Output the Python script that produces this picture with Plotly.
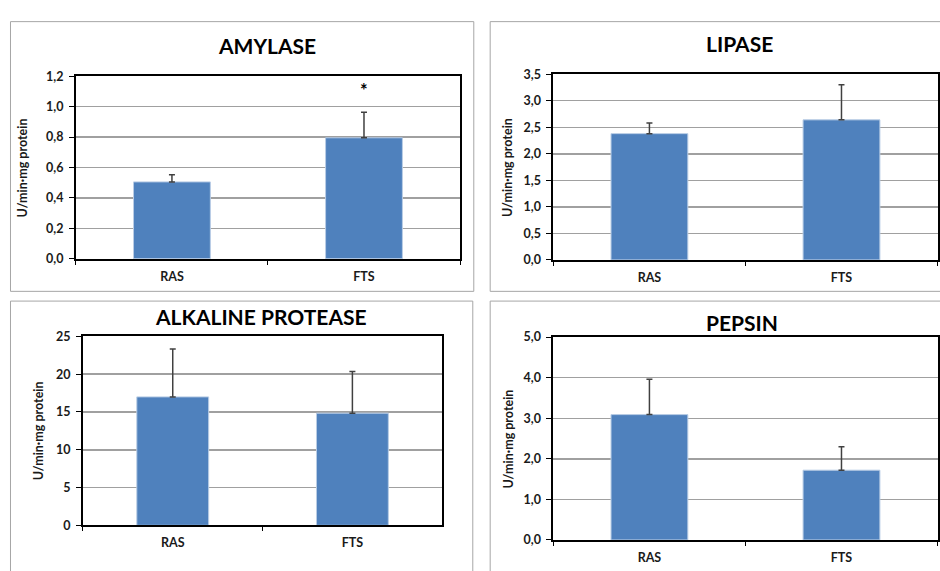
import plotly.graph_objects as go

categories = ["RAS", "FTS"]

amylase_mean = [0.505, 0.795]
amylase_err = [0.047, 0.168]
lipase_mean = [2.38, 2.64]
lipase_err = [0.20, 0.66]
protease_mean = [17.0, 14.85]
protease_err = [6.35, 5.5]
pepsin_mean = [3.09, 1.72]
pepsin_err = [0.87, 0.58]

titles = ["AMYLASE", "LIPASE", "ALKALINE PROTEASE", "PEPSIN"]
y_label = "U/min·mg protein"
y_ranges = [[0, 1.2], [0, 3.5], [0, 25], [0, 5]]
y_dticks = [0.2, 0.5, 5, 1.0]
y_formats = [".1f", ".1f", "d", ".1f"]
significance = ["", "*"]  # amylase markers

W, H = 940, 571
FONT = "Lato"
BAR = "#4F81BD"
BAR_EDGE = "#B9CDE5"
GRID = "#A0A0A0"
PANEL = "#A6A6A6"

# plot areas in pixels: x0, x1, y0(top), y1(bottom)
plots = [
    (76, 460.5, 70, 257.5),
    (554, 938.5, 68, 258.7),
    (83, 442.7, 337.3, 531.3),
    (554, 938.5, 338, 546.3),
]
panels = [
    (10.5, 474.3, 14, 291),
    (490.7, 945, 14, 291),
    (10.5, 473.3, 301, 580),
    (490.7, 945, 301, 580),
]
title_pos = [(267, 39), (740, 36), (261, 317), (743, 323)]
ylab_x = [22, 507.5, 38.5, 509.5]

series = [
    (amylase_mean, amylase_err),
    (lipase_mean, lipase_err),
    (protease_mean, protease_err),
    (pepsin_mean, pepsin_err),
]

tickfont = dict(family=FONT, size=12.5, color="#1a1a1a", weight="bold")

fig = go.Figure()
layout = dict(
    width=W, height=H,
    margin=dict(l=0, r=0, t=0, b=0),
    paper_bgcolor="white", plot_bgcolor="white",
    showlegend=False, bargap=0.6,
    separators=",.",
    font=dict(family=FONT, color="#000000"),
    annotations=[], shapes=[],
)

for i, ((means, errs), (x0, x1, y0, y1)) in enumerate(zip(series, plots)):
    n = "" if i == 0 else str(i + 1)
    fig.add_trace(go.Bar(
        x=categories, y=means,
        marker=dict(color=BAR, line=dict(color=BAR_EDGE, width=1)),
        error_y=dict(type="data", array=errs, arrayminus=[0] * len(errs),
                     symmetric=False, color="#404040", thickness=1.5, width=3),
        xaxis="x" + n, yaxis="y" + n, hoverinfo="skip",
    ))
    layout["xaxis" + n] = dict(
        domain=[x0 / W, x1 / W], anchor="y" + n,
        showline=True, linecolor="black", linewidth=2, mirror=True,
        ticks="outside", ticklen=4, tickcolor="black", tickson="boundaries",
        ticklabelstandoff=5,
        tickfont=tickfont, showgrid=False, fixedrange=True,
    )
    layout["yaxis" + n] = dict(
        domain=[1 - y1 / H, 1 - y0 / H], anchor="x" + n,
        range=y_ranges[i], dtick=y_dticks[i], tickformat=y_formats[i],
        showline=True, linecolor="black", linewidth=2, mirror=True,
        ticks="outside", ticklen=5, tickcolor="black",
        ticklabelstandoff=3,
        tickfont=tickfont,
        showgrid=True, gridcolor=GRID, gridwidth=1.5,
        zeroline=False, fixedrange=True,
    )
    px0, px1, py0, py1 = panels[i]
    layout["shapes"].append(dict(
        type="rect", xref="paper", yref="paper",
        x0=px0 / W, x1=px1 / W, y0=1 - py1 / H, y1=1 - py0 / H,
        line=dict(color=PANEL, width=1), layer="below",
    ))
    tx, ty = title_pos[i]
    layout["annotations"].append(dict(
        text="<b>%s</b>" % titles[i], x=tx / W, y=1 - ty / H,
        xref="paper", yref="paper", xanchor="center", yanchor="middle",
        showarrow=False, font=dict(family=FONT, size=21, color="black"),
    ))
    layout["annotations"].append(dict(
        text="<b>%s</b>" % y_label, x=ylab_x[i] / W, y=1 - (y0 + y1) / 2 / H,
        xref="paper", yref="paper", xanchor="center", yanchor="middle",
        textangle=-90, showarrow=False,
        font=dict(family=FONT, size=12.5, color="#1a1a1a"),
    ))

for c, m, e, s in zip(categories, amylase_mean, amylase_err, significance):
    if s:
        layout["annotations"].append(dict(
            text="<b>%s</b>" % s, x=c, y=m + e, xref="x", yref="y",
            yanchor="bottom", yshift=9, showarrow=False,
            font=dict(family=FONT, size=18, color="black"),
        ))

fig.update_layout(**layout)
fig.write_html(
    "out.html",
    config={"displayModeBar": False, "staticPlot": True},
    post_script="document.body.style.margin='0';document.body.style.overflow='hidden';",
)
